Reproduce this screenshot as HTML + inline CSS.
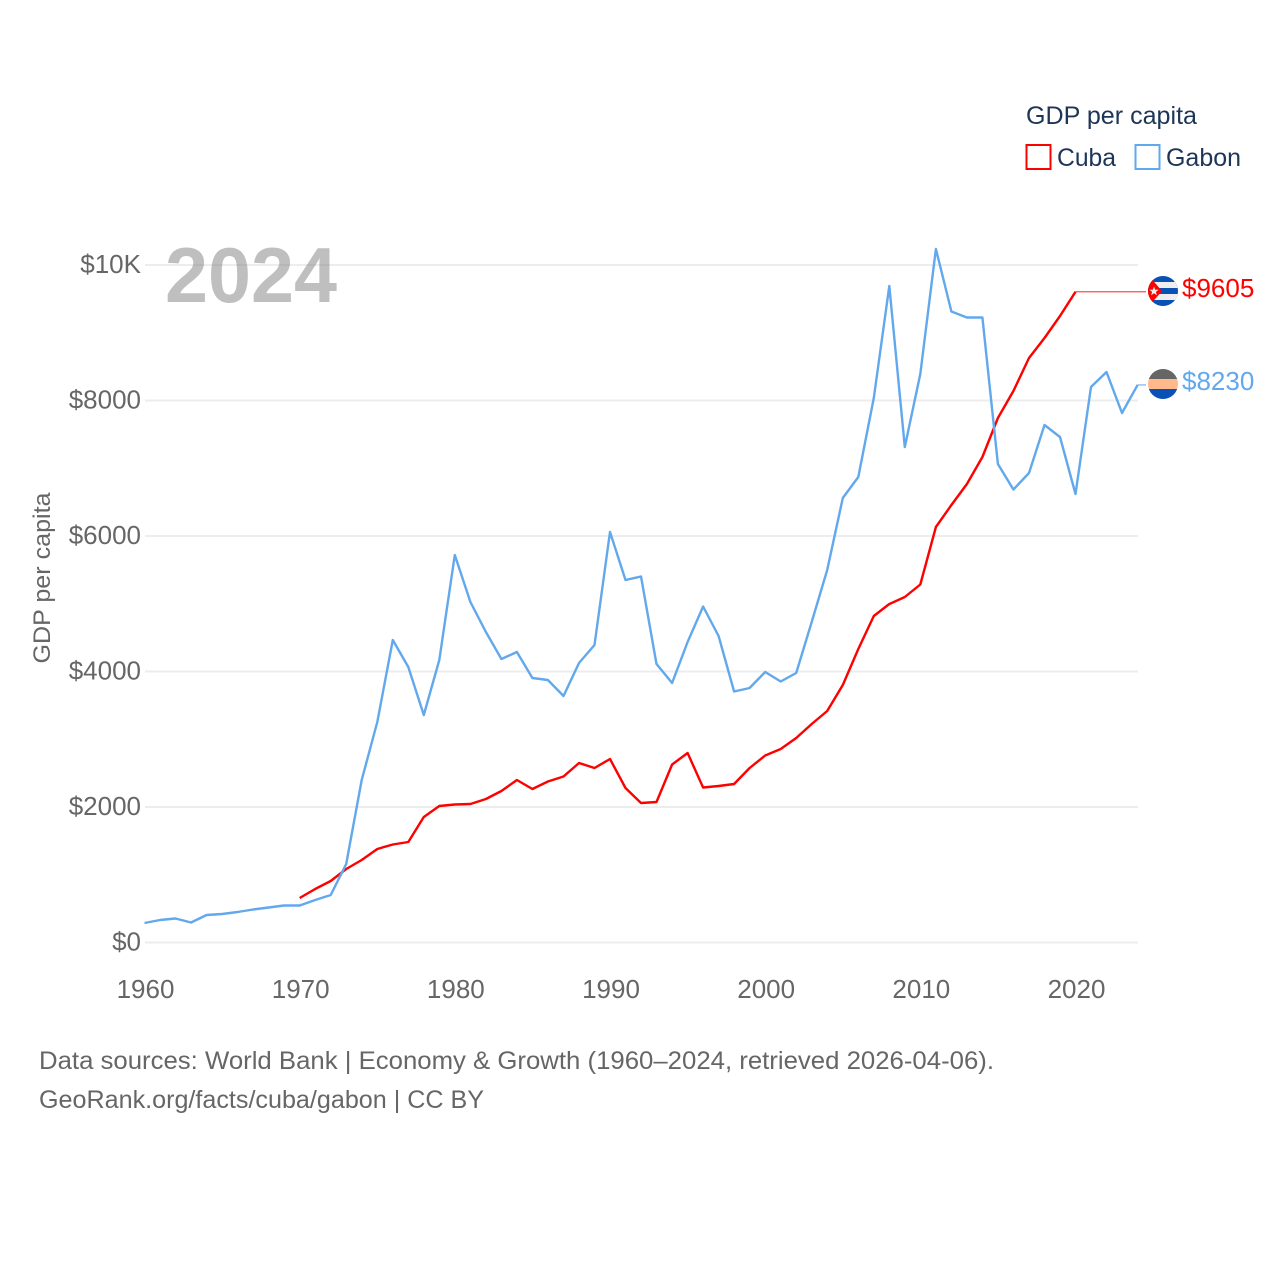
<!DOCTYPE html>
<html lang="en">
<head>
<meta charset="utf-8">
<title>GDP per capita: Cuba and Gabon</title>
<style>
html,body{margin:0;padding:0;background:#fff;}
svg{display:block;}
text{font-family:"Liberation Sans","DejaVu Sans",sans-serif;}
</style>
</head>
<body>
<svg id="chart" width="1280" height="1280" viewBox="0 0 1280 1280" xmlns="http://www.w3.org/2000/svg">
  <defs>
    <clipPath id="clip-cuba"><circle cx="1163" cy="291" r="15"/></clipPath>
    <clipPath id="clip-gabon"><circle cx="1163" cy="384" r="15"/></clipPath>
  </defs>
  <g id="grid"></g>
  <g id="yticks"></g>
  <g id="xticks"></g>
  <text x="165" y="302" font-size="78" font-weight="700" fill="#7f7f7f" fill-opacity="0.5" textLength="172" lengthAdjust="spacingAndGlyphs">2024</text>
  <text transform="translate(50,578) rotate(-90)" text-anchor="middle" font-size="24" fill="#666" textLength="171" lengthAdjust="spacingAndGlyphs">GDP per capita</text>
  <g id="series"></g>

  <g>
    <text x="1026" y="124" font-size="25" fill="#1d3557" textLength="171" lengthAdjust="spacingAndGlyphs">GDP per capita</text>
    <rect x="1026.5" y="145" width="24" height="24" fill="none" stroke="#ff0000" stroke-width="2"/>
    <text x="1057" y="166" font-size="25" fill="#1d3557" textLength="59" lengthAdjust="spacingAndGlyphs">Cuba</text>
    <rect x="1135.5" y="145" width="24" height="24" fill="none" stroke="#62a8ed" stroke-width="2"/>
    <text x="1166" y="166" font-size="25" fill="#1d3557" textLength="75" lengthAdjust="spacingAndGlyphs">Gabon</text>
  </g>

  <g clip-path="url(#clip-cuba)">
    <rect x="1148" y="276" width="30" height="30" fill="#0a51b5"/>
    <rect x="1148" y="282" width="30" height="6" fill="#eeeeee"/>
    <rect x="1148" y="294" width="30" height="6" fill="#eeeeee"/>
    <polygon points="1148,276 1149,276 1162,291 1149,306 1148,306" fill="#ff0000"/>
    <polygon points="1154,286.5 1155.2,289.8 1158.6,289.8 1155.9,291.9 1156.9,295.2 1154,293.2 1151.1,295.2 1152.1,291.9 1149.4,289.8 1152.8,289.8" fill="#eeeeee"/>
  </g>
  <g clip-path="url(#clip-gabon)">
    <rect x="1148" y="369" width="30" height="10" fill="#666666"/>
    <rect x="1148" y="379" width="30" height="10" fill="#ffb98a"/>
    <rect x="1148" y="389" width="30" height="10" fill="#0a51b5"/>
  </g>
  <text x="1182" y="297" font-size="26" fill="#ff0000">$9605</text>
  <text x="1182" y="390" font-size="26" fill="#62a8ed">$8230</text>

  <g>
    <text x="39" y="1069" font-size="25" fill="#666" textLength="955" lengthAdjust="spacingAndGlyphs">Data sources: World Bank | Economy &amp; Growth (1960–2024, retrieved 2026-04-06).</text>
    <text x="39" y="1108" font-size="25" fill="#666" textLength="445" lengthAdjust="spacingAndGlyphs">GeoRank.org/facts/cuba/gabon | CC BY</text>
  </g>
</svg>
<script>
const gabonYears = [1960,1961,1962,1963,1964,1965,1966,1967,1968,1969,1970,1971,1972,1973,1974,1975,1976,1977,1978,1979,1980,1981,1982,1983,1984,1985,1986,1987,1988,1989,1990,1991,1992,1993,1994,1995,1996,1997,1998,1999,2000,2001,2002,2003,2004,2005,2006,2007,2008,2009,2010,2011,2012,2013,2014,2015,2016,2017,2018,2019,2020,2021,2022,2023,2024];
const gabonValues = [288,332,354,295,406,420,450,487,517,546,546,627,701,1159,2398,3255,4465,4066,3358,4170,5720,5026,4583,4185,4288,3904,3875,3638,4125,4391,6059,5351,5402,4111,3830,4435,4959,4524,3705,3756,3993,3852,3978,4731,5498,6561,6871,8037,9690,7313,8391,10236,9314,9225,9225,7063,6686,6930,7638,7461,6620,8199,8421,7815,8230];
const cubaYears = [1970,1971,1972,1973,1974,1975,1976,1977,1978,1979,1980,1981,1982,1983,1984,1985,1986,1987,1988,1989,1990,1991,1992,1993,1994,1995,1996,1997,1998,1999,2000,2001,2002,2003,2004,2005,2006,2007,2008,2009,2010,2011,2012,2013,2014,2015,2016,2017,2018,2019,2020];
const cubaValues = [657,790,908,1085,1218,1380,1446,1483,1852,2015,2037,2044,2118,2236,2398,2266,2376,2450,2649,2576,2708,2280,2059,2074,2627,2797,2288,2310,2339,2576,2760,2856,3018,3225,3417,3801,4332,4819,4996,5100,5284,6133,6458,6768,7166,7742,8140,8627,8923,9247,9605];
const yTickValues = [0,2000,4000,6000,8000,10000];
const yTickLabels = ['$0','$2000','$4000','$6000','$8000','$10K'];
const xTickValues = [1960,1970,1980,1990,2000,2010,2020];
const xTickLabels = ['1960','1970','1980','1990','2000','2010','2020'];

const NS = 'http://www.w3.org/2000/svg';
function xScale(year){ return 144.5 + (year - 1960) * (1075.5 - 144.5) / 60; }
function yScale(value){ return 942.5 - value * 0.06775; }
function make(tag, attrs, parent){
  const el = document.createElementNS(NS, tag);
  for (const k in attrs) el.setAttribute(k, attrs[k]);
  parent.appendChild(el);
  return el;
}
const grid = document.getElementById('grid');
const yticks = document.getElementById('yticks');
const xticks = document.getElementById('xticks');
const series = document.getElementById('series');

yTickValues.forEach(function(v, i){
  const line = make('line', {x1:145, x2:1138, y1:yScale(v), y2:yScale(v), stroke:'#ededed', 'stroke-width':2}, grid);
  
  
  const t = make('text', {x:141, y:yScale(v)+8, 'text-anchor':'end', 'font-size':26, fill:'#666'}, yticks);
  
  
  t.textContent = yTickLabels[i];
});
xTickValues.forEach(function(v, i){
  const t = make('text', {x:xScale(v)+1, y:998, 'text-anchor':'middle', 'font-size':26, fill:'#666'}, xticks);
  
  
  t.textContent = xTickLabels[i];
});

function pathFor(years, values){
  return years.map(function(y, i){
    return (i ? 'L' : 'M') + xScale(y).toFixed(1) + ' ' + yScale(values[i]).toFixed(1);
  }).join(' ');
}
const cubaLast = cubaValues.length - 1;
const gabonLast = gabonValues.length - 1;

const cubaLink = make('line', {x1:xScale(cubaYears[cubaLast]), y1:yScale(cubaValues[cubaLast]), x2:1146, y2:yScale(cubaValues[cubaLast]), stroke:'#ff0000', 'stroke-opacity':0.7, 'stroke-width':1.3}, series);


const gabonLink = make('line', {x1:xScale(gabonYears[gabonLast]), y1:yScale(gabonValues[gabonLast]), x2:1146, y2:yScale(gabonValues[gabonLast]), stroke:'#62a8ed', 'stroke-opacity':0.8, 'stroke-width':1.3}, series);



const cubaLine = make('path', {d:pathFor(cubaYears, cubaValues), fill:'none', stroke:'#ff0000', 'stroke-width':2.4, 'stroke-linejoin':'round'}, series);


const gabonLine = make('path', {d:pathFor(gabonYears, gabonValues), fill:'none', stroke:'#62a8ed', 'stroke-width':2.4, 'stroke-linejoin':'round'}, series);


</script>
</body>
</html>
